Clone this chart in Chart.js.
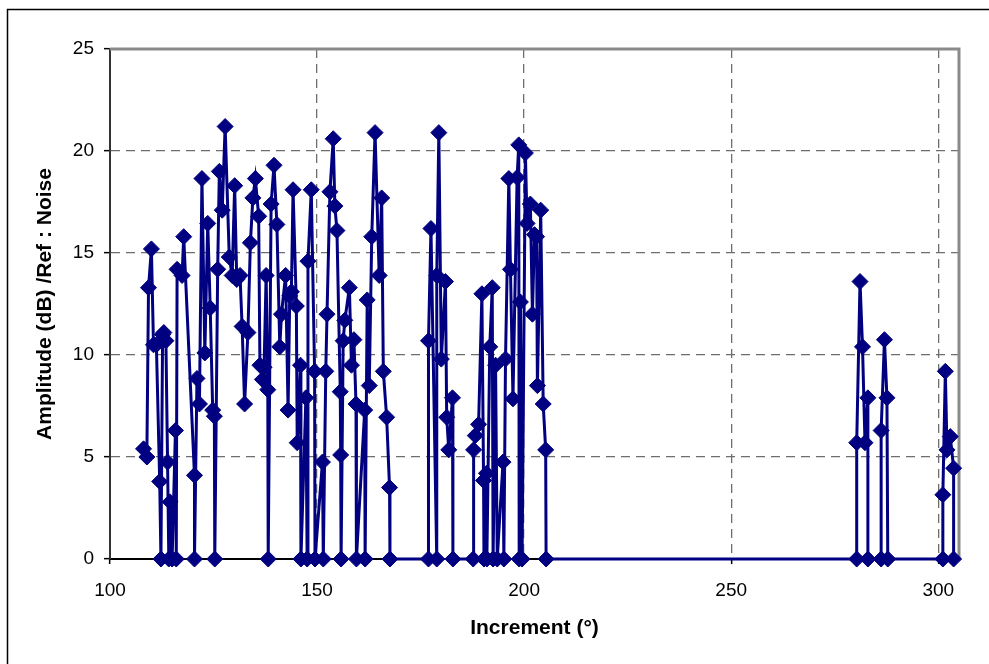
<!DOCTYPE html>
<html><head><meta charset="utf-8">
<script src="https://cdn.jsdelivr.net/npm/chart.js@4/dist/chart.umd.min.js"></script>
<style>html,body{margin:0;padding:0;background:#fff}#wrap{width:989px;height:664px}</style>
</head><body><div id="wrap"><canvas id="c" width="989" height="664"></canvas></div>
<script>
// Increment (°) values
const increments = [
108.1,108.9,109.3,110.0,110.5,111.2,112.0,112.3,112.7,113.0,113.5,113.9,114.2,114.5,115.0,115.8,116.0,116.2,117.4,117.8,
120.4,120.4,121.0,121.6,122.2,122.9,123.6,124.2,124.8,125.2,125.3,126.0,126.4,127.1,127.8,128.8,129.5,130.1,130.6,131.4,
131.9,132.5,133.3,133.9,134.5,135.1,135.9,136.2,136.8,137.2,137.7,138.1,138.2,138.9,139.6,140.3,141.0,141.4,142.4,143.0,
143.4,143.8,144.2,145.0,145.2,146.0,146.1,147.3,147.6,147.8,148.6,149.4,149.5,151.3,151.5,152.1,152.4,153.1,153.9,154.3,
154.8,155.6,155.7,155.8,156.3,156.7,157.8,158.3,158.9,159.4,159.5,161.5,161.6,162.1,162.6,163.2,164.0,165.0,165.6,166.0,
166.8,167.5,167.6,176.9,176.9,177.5,178.9,178.9,179.4,180.0,181.0,181.3,181.8,182.7,182.8,187.7,187.8,188.2,189.0,189.8,
190.2,190.3,190.9,191.0,191.7,192.3,192.5,193.1,193.5,194.9,195.1,195.5,196.3,196.7,197.3,198.3,198.7,198.8,199.1,199.5,
200.3,200.7,201.5,202.0,202.5,203.0,203.2,204.0,204.6,205.2,205.3,280.3,280.3,281.1,281.7,282.3,283.0,283.0,286.2,286.2,
287.0,287.6,287.8,301.1,301.1,301.7,302.1,302.9,303.7,303.7
];
// Amplitude (dB) /Ref : Noise values
const amplitudes = [
5.4,5.0,13.3,15.2,10.5,10.5,3.8,0,11.0,11.1,10.7,4.75,0,2.8,0,6.3,0,14.2,13.9,15.8,
4.1,0,8.85,7.6,18.65,10.1,16.45,12.3,7.3,7.0,0,14.2,19.0,17.1,21.2,14.8,13.9,18.3,13.7,13.9,
11.4,7.6,11.1,15.5,17.7,18.65,16.8,9.5,8.8,9.4,13.9,8.3,0,17.4,19.3,16.4,10.4,12.0,13.9,7.3,
12.9,13.1,18.1,12.4,5.7,9.5,0,7.9,0,14.6,18.1,9.2,0,4.75,0,9.2,12.0,18.0,20.6,17.3,
16.1,8.2,5.1,0,10.7,11.7,13.3,9.5,10.75,7.6,0,7.3,0,12.7,8.5,15.8,20.9,13.9,17.7,9.2,
6.95,3.5,0,0,10.7,16.2,0,13.9,20.9,9.8,13.6,6.95,5.35,7.9,0,0,5.35,6.05,6.6,13.0,
3.85,0,4.2,0,10.4,13.3,0,9.5,0,4.75,0,9.8,18.65,14.2,7.85,18.7,20.3,0,12.6,0,
19.9,16.45,17.4,12.0,15.9,15.8,8.5,17.1,7.6,5.35,0,0,5.7,13.6,10.4,5.7,7.9,0,0,6.3,
10.75,7.9,0,0,3.15,9.2,5.35,6.0,4.45,0
];
const xTickValues = [100, 150, 200, 250, 300];
const yTickValues = [0, 5, 10, 15, 20, 25];
const xTitle = 'Increment (°)';
const yTitle = 'Amplitude (dB) /Ref : Noise';

const points = increments.map((x, i) => ({x, y: amplitudes[i]}));

const frame = {
  id: 'frame',
  beforeDraw(chart) {
    const c = chart.ctx;
    c.save();
    c.fillStyle = '#fff';
    c.fillRect(0, 0, chart.width, chart.height);
    c.restore();
  },
  beforeDatasetsDraw(chart) {
    const c = chart.ctx, a = chart.chartArea;
    c.save();
    c.strokeStyle = '#8a8a8a';
    c.lineWidth = 3;
    c.beginPath();
    c.moveTo(a.left, a.top);
    c.lineTo(a.right, a.top);
    c.lineTo(a.right, a.bottom);
    c.stroke();
    c.restore();
  },
  afterDraw(chart) {
    const c = chart.ctx;
    c.save();
    c.strokeStyle = '#000';
    c.lineWidth = 1.5;
    c.beginPath();
    c.moveTo(7.5, chart.height + 2);
    c.lineTo(7.5, 9.5);
    c.lineTo(chart.width + 2, 9.5);
    c.stroke();
    c.restore();
  }
};

const font = 'Liberation Sans, Arial, Helvetica, sans-serif';

new Chart(document.getElementById('c'), {
  type: 'scatter',
  data: {
    datasets: [{
      data: points,
      showLine: true,
      borderColor: '#000080',
      backgroundColor: '#000080',
      borderWidth: 3,
      pointStyle: 'rectRot',
      pointRadius: 8,
      pointBorderWidth: 1,
      pointBackgroundColor: '#000080',
      pointBorderColor: '#000080',
      tension: 0,
      clip: false
    }]
  },
  options: {
    responsive: false,
    devicePixelRatio: 1,
    animation: false,
    layout: {padding: {left: 0, top: 49, right: 30, bottom: 0}},
    plugins: {legend: {display: false}, tooltip: {enabled: false}},
    scales: {
      x: {
        type: 'linear',
        min: 100, max: 305,
        afterBuildTicks(axis) { axis.ticks = xTickValues.map(v => ({value: v})); },
        afterFit(axis) { axis.height = 105; },
        ticks: {stepSize: 50, includeBounds: false, padding: 15, color: '#000', font: {family: font, size: 19}},
        grid: {
          color: (ctx) => (ctx.tick && ctx.tick.value === 100) ? 'rgba(0,0,0,0)' : '#6e6e6e',
          lineWidth: 1.3,
          tickLength: 5,
          tickColor: '#000',
          tickWidth: 1.5
        },
        border: {display: true, color: '#000', width: 2, dash: [9, 6]},
        title: {display: true, text: xTitle, color: '#000', font: {family: font, size: 21, weight: 'bold'}, padding: {top: 0, bottom: 23}}
      },
      y: {
        type: 'linear',
        min: 0, max: 25,
        afterBuildTicks(axis) { axis.ticks = yTickValues.map(v => ({value: v})); },
        afterFit(axis) { axis.width = 110; },
        ticks: {stepSize: 5, padding: 10, color: '#000', font: {family: font, size: 19}},
        grid: {
          color: (ctx) => (ctx.tick && (ctx.tick.value === 0 || ctx.tick.value === 25)) ? 'rgba(0,0,0,0)' : '#6e6e6e',
          lineWidth: 1.3,
          tickLength: 6,
          tickColor: '#000',
          tickWidth: 1.5
        },
        border: {display: true, color: '#333', width: 2, dash: [9, 6]},
        title: {display: true, text: yTitle, color: '#000', font: {family: font, size: 21, weight: 'bold'}, padding: {top: 33, bottom: 0}}
      }
    }
  },
  plugins: [frame]
});
</script>
</body></html>
